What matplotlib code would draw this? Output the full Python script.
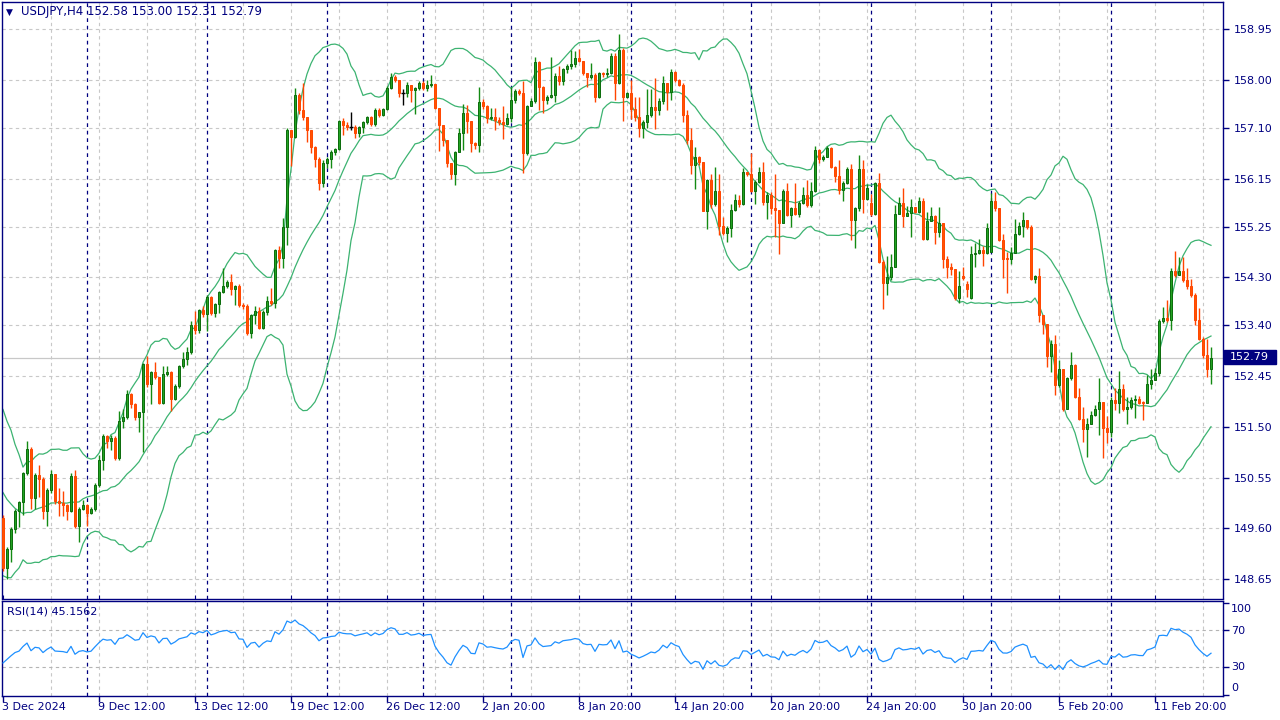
import numpy as np
import pandas as pd
import matplotlib
matplotlib.use("Agg")
import matplotlib.pyplot as plt
from matplotlib.patches import Rectangle

# ---------------- data (USDJPY H4) ----------------
# closes before the visible window (warm-up for Bollinger(20) / RSI(14))
history_close = [152.40, 152.05, 152.30, 151.90, 152.20, 151.85, 152.10, 151.70, 151.95, 151.60,
                 151.90, 151.55, 151.85, 151.50, 151.80,
                 151.75, 151.30, 151.55, 151.20, 151.45, 150.70, 150.15, 149.55, 150.00, 149.45,
                 149.90, 149.55, 150.10, 149.80, 150.35, 149.95, 150.20, 149.70, 149.85]

opens = [
    149.79, 148.86, 149.21, 149.58, 149.93, 150.09, 150.63, 151.08, 150.16, 150.60,
    150.53, 149.93, 150.32, 150.61, 150.11, 150.07, 150.04, 149.93, 150.58, 149.64,
    149.96, 150.04, 149.89, 149.96, 150.41, 150.88, 151.33, 151.24, 151.30, 150.91,
    151.61, 151.69, 152.12, 151.92, 151.69, 151.77, 152.68, 152.30, 152.52, 152.44,
    151.95, 152.49, 152.52, 152.03, 152.27, 152.64, 152.77, 152.90, 153.41, 153.31,
    153.68, 153.61, 153.93, 153.64, 153.80, 154.03, 154.14, 154.21, 154.09, 154.14,
    153.78, 153.76, 153.26, 153.60, 153.66, 153.35, 153.65, 153.85, 153.81, 154.81,
    154.66, 155.24, 157.06, 156.93, 157.72, 157.43, 157.30, 157.05, 156.74, 156.52,
    156.07, 156.45, 156.51, 156.65, 156.70, 157.23, 157.15, 157.12, 157.12, 157.00,
    157.11, 157.20, 157.31, 157.17, 157.43, 157.34, 157.45, 157.84, 158.05, 158.00,
    157.76, 157.76, 157.90, 157.80, 157.84, 157.93, 157.85, 157.90, 157.92, 157.47,
    157.15, 156.87, 156.45, 156.24, 156.64, 157.01, 157.37, 157.22, 156.81, 156.78,
    157.58, 157.50, 157.28, 157.31, 157.25, 157.20, 157.17, 157.28, 157.63, 157.79,
    157.75, 156.62, 157.51, 157.60, 158.34, 157.87, 157.62, 157.67, 157.71, 158.07,
    157.97, 158.20, 158.25, 158.30, 158.40, 158.36, 158.12, 158.06, 158.08, 157.67,
    158.13, 158.10, 158.12, 158.44, 157.93, 158.55, 157.67, 157.75, 157.46, 157.30,
    157.10, 157.21, 157.34, 157.49, 157.43, 157.60, 157.94, 157.77, 158.15, 158.00,
    157.91, 157.34, 156.87, 156.40, 156.56, 156.46, 155.54, 156.12, 155.68, 155.92,
    155.27, 155.13, 155.23, 155.57, 155.74, 155.68, 156.27, 156.24, 155.92, 156.09,
    156.27, 155.71, 155.84, 155.59, 155.56, 155.31, 155.92, 155.46, 155.59, 155.49,
    155.70, 155.84, 155.65, 155.92, 156.68, 156.52, 156.56, 156.72, 156.37, 156.20,
    155.94, 156.06, 156.32, 155.37, 155.59, 156.32, 155.76, 155.70, 155.48, 156.06,
    154.59, 154.20, 154.31, 154.50, 155.48, 155.70, 155.45, 155.50, 155.61, 155.53,
    155.72, 155.01, 155.36, 155.44, 155.15, 155.31, 154.65, 154.49, 154.45, 153.91,
    154.32, 154.17, 153.92, 154.74, 154.76, 154.81, 154.76, 154.78, 155.72, 155.59,
    155.00, 154.65, 154.64, 154.76, 155.12, 155.26, 155.37, 155.25, 154.26, 154.33,
    153.59, 153.42, 152.83, 153.06, 152.28, 152.59, 151.83, 152.41, 152.65, 152.06,
    151.64, 151.45, 151.56, 151.72, 151.83, 151.97, 151.47, 151.41, 152.00, 151.94,
    152.20, 151.84, 151.87, 152.00, 152.02, 151.95, 151.94, 152.30, 152.38, 152.50,
    153.49, 153.53, 153.50, 154.42, 154.34, 154.42, 154.25, 154.14, 153.97, 153.50,
    153.15, 152.84, 152.58]

highs = [
    149.85, 149.25, 149.63, 149.96, 150.12, 150.65, 151.24, 151.13, 150.63, 150.78,
    150.56, 150.35, 150.69, 150.62, 150.35, 150.29, 150.05, 150.63, 150.69, 150.00,
    150.13, 150.06, 150.00, 150.45, 150.97, 151.36, 151.35, 151.35, 151.32, 151.80,
    151.83, 152.19, 152.14, 151.94, 151.78, 152.70, 152.82, 152.55, 152.72, 152.42,
    152.63, 152.63, 152.55, 152.30, 152.66, 152.90, 152.99, 153.48, 153.67, 153.70,
    153.76, 153.97, 153.95, 153.82, 154.05, 154.47, 154.25, 154.36, 154.16, 154.17,
    153.81, 153.80, 153.62, 153.76, 153.75, 153.68, 153.95, 154.10, 154.83, 154.88,
    155.41, 157.09, 157.05, 157.84, 157.75, 157.93, 157.30, 157.06, 156.76, 156.55,
    156.50, 156.55, 156.68, 156.72, 157.25, 157.28, 157.20, 157.39, 157.15, 157.13,
    157.23, 157.33, 157.32, 157.47, 157.48, 157.47, 157.88, 158.12, 158.09, 158.00,
    157.83, 157.95, 157.90, 157.86, 157.97, 157.97, 158.00, 158.09, 157.92, 157.47,
    157.15, 156.88, 156.45, 156.66, 157.09, 157.55, 157.53, 157.22, 156.84, 157.87,
    157.64, 157.52, 157.47, 157.47, 157.30, 157.51, 157.37, 157.87, 157.82, 157.83,
    157.97, 157.53, 157.65, 158.43, 158.35, 157.88, 157.72, 158.43, 158.12, 158.25,
    158.22, 158.30, 158.56, 158.53, 158.57, 158.36, 158.12, 158.31, 158.12, 158.15,
    158.14, 158.22, 158.50, 158.50, 158.85, 158.60, 157.77, 157.99, 157.68, 157.67,
    157.24, 157.82, 157.82, 158.04, 157.65, 158.07, 157.94, 158.21, 158.17, 158.01,
    157.93, 157.44, 157.09, 156.74, 156.57, 156.46, 156.14, 156.24, 156.37, 156.24,
    155.43, 155.26, 155.68, 155.86, 155.84, 156.34, 156.28, 156.62, 156.12, 156.37,
    156.46, 155.90, 155.90, 156.24, 155.56, 155.96, 156.06, 155.62, 156.06, 155.72,
    156.00, 156.12, 156.09, 156.75, 156.70, 156.60, 156.76, 156.74, 156.38, 156.50,
    156.10, 156.37, 156.43, 155.62, 156.59, 156.50, 156.05, 155.86, 156.09, 156.26,
    154.62, 154.70, 154.74, 155.65, 155.81, 155.98, 155.63, 155.76, 155.62, 155.81,
    155.78, 155.53, 155.61, 155.46, 155.61, 155.31, 154.69, 154.57, 154.45, 154.41,
    154.50, 154.23, 154.89, 154.94, 155.02, 154.89, 155.31, 155.87, 155.89, 155.58,
    155.12, 154.77, 154.87, 155.40, 155.34, 155.53, 155.37, 155.28, 154.35, 154.48,
    153.59, 153.43, 153.12, 153.22, 152.75, 152.59, 152.44, 152.90, 152.67, 152.22,
    151.88, 151.66, 151.80, 151.91, 152.41, 151.97, 151.70, 152.06, 152.22, 152.55,
    152.31, 152.06, 152.05, 152.10, 152.07, 151.99, 152.47, 152.59, 152.61, 153.51,
    153.75, 153.88, 154.47, 154.80, 154.68, 154.68, 154.48, 154.26, 154.00, 153.72,
    153.18, 153.15, 153.00]

lows = [
    148.80, 148.65, 148.96, 149.51, 149.62, 149.85, 150.60, 149.97, 149.96, 150.19,
    149.77, 149.64, 150.27, 150.05, 149.83, 149.83, 149.76, 149.90, 149.60, 149.35,
    149.94, 149.64, 149.86, 149.93, 150.38, 150.69, 151.10, 151.07, 150.88, 150.88,
    151.47, 151.64, 151.85, 151.62, 151.41, 151.02, 152.25, 151.92, 152.40, 151.92,
    151.93, 152.45, 151.80, 152.00, 152.22, 152.60, 152.65, 152.87, 153.23, 153.25,
    153.55, 153.30, 153.60, 153.55, 153.63, 154.00, 154.10, 153.97, 153.78, 153.75,
    153.70, 153.22, 153.16, 153.42, 153.33, 153.33, 153.60, 153.78, 153.72, 154.47,
    154.47, 154.91, 156.39, 156.90, 157.35, 157.25, 156.84, 156.62, 156.37, 155.94,
    155.99, 156.35, 156.34, 156.60, 156.68, 156.97, 157.05, 157.06, 156.90, 156.93,
    157.00, 157.18, 157.13, 157.13, 157.31, 157.32, 157.43, 157.83, 157.95, 157.67,
    157.52, 157.67, 157.59, 157.35, 157.80, 157.80, 157.78, 157.86, 157.45, 156.67,
    156.76, 156.37, 156.15, 156.02, 156.64, 156.69, 157.00, 156.64, 156.70, 156.65,
    157.45, 157.19, 157.24, 157.06, 157.15, 156.89, 157.15, 157.20, 157.57, 157.72,
    156.25, 156.60, 157.50, 157.57, 157.43, 157.37, 157.55, 157.65, 157.58, 157.90,
    157.90, 158.13, 158.20, 158.23, 158.33, 158.08, 157.87, 158.02, 157.59, 157.66,
    158.05, 158.05, 158.10, 157.62, 157.92, 157.23, 157.65, 157.27, 157.22, 156.93,
    156.91, 157.09, 157.30, 157.07, 157.34, 157.55, 157.44, 157.62, 157.95, 157.88,
    157.21, 156.80, 156.24, 155.96, 156.40, 155.54, 155.21, 155.60, 155.64, 155.09,
    155.09, 154.96, 155.06, 155.55, 155.62, 155.66, 156.20, 155.90, 155.68, 156.07,
    155.65, 155.40, 155.49, 155.06, 154.74, 155.31, 155.44, 155.24, 155.46, 155.43,
    155.68, 155.62, 155.62, 155.90, 156.45, 156.48, 156.55, 156.35, 156.09, 155.86,
    155.73, 156.05, 155.00, 154.84, 155.55, 155.51, 155.74, 155.45, 155.46, 154.56,
    153.70, 153.97, 154.25, 154.50, 155.48, 155.25, 155.44, 155.05, 155.50, 155.50,
    155.00, 154.99, 155.36, 154.92, 155.06, 154.47, 154.28, 154.35, 153.87, 153.81,
    154.25, 153.94, 153.90, 154.50, 154.73, 154.51, 154.74, 154.77, 155.55, 154.98,
    154.28, 154.01, 154.55, 154.75, 155.09, 155.06, 155.20, 154.25, 154.20, 153.47,
    153.24, 152.62, 152.53, 152.09, 152.25, 151.80, 151.91, 152.38, 152.04, 151.62,
    151.22, 150.94, 151.55, 151.70, 151.34, 150.92, 151.19, 151.31, 151.81, 151.76,
    151.80, 151.56, 151.84, 151.67, 151.92, 151.63, 151.94, 152.20, 152.38, 152.45,
    153.45, 153.47, 153.31, 154.30, 154.34, 154.22, 154.09, 153.94, 153.40, 153.12,
    152.78, 152.44, 152.31]

closes = [
    148.86, 149.21, 149.58, 149.93, 150.09, 150.63, 151.08, 150.16, 150.60, 150.53,
    149.93, 150.32, 150.61, 150.11, 150.07, 150.04, 149.93, 150.58, 149.64, 149.96,
    150.04, 149.89, 149.96, 150.41, 150.88, 151.33, 151.24, 151.30, 150.91, 151.61,
    151.69, 152.12, 151.92, 151.69, 151.77, 152.68, 152.30, 152.52, 152.44, 151.95,
    152.49, 152.52, 152.03, 152.27, 152.64, 152.77, 152.90, 153.41, 153.31, 153.68,
    153.61, 153.93, 153.64, 153.80, 154.03, 154.14, 154.21, 154.09, 154.14, 153.78,
    153.76, 153.26, 153.60, 153.66, 153.35, 153.65, 153.85, 153.81, 154.81, 154.66,
    155.24, 157.06, 156.93, 157.72, 157.43, 157.30, 157.05, 156.74, 156.52, 156.07,
    156.45, 156.51, 156.65, 156.70, 157.23, 157.15, 157.12, 157.12, 157.00, 157.11,
    157.20, 157.31, 157.17, 157.43, 157.34, 157.45, 157.84, 158.05, 158.00, 157.76,
    157.76, 157.90, 157.80, 157.84, 157.93, 157.85, 157.90, 157.92, 157.47, 157.15,
    156.87, 156.45, 156.24, 156.64, 157.01, 157.37, 157.22, 156.81, 156.78, 157.58,
    157.50, 157.28, 157.31, 157.25, 157.20, 157.17, 157.28, 157.63, 157.79, 157.75,
    156.62, 157.51, 157.60, 158.34, 157.87, 157.62, 157.67, 157.71, 158.07, 157.97,
    158.20, 158.25, 158.30, 158.40, 158.36, 158.12, 158.06, 158.08, 157.67, 158.13,
    158.10, 158.12, 158.44, 157.93, 158.55, 157.67, 157.75, 157.46, 157.30, 157.10,
    157.21, 157.34, 157.49, 157.43, 157.60, 157.94, 157.77, 158.15, 158.00, 157.91,
    157.34, 156.87, 156.40, 156.56, 156.46, 155.54, 156.12, 155.68, 155.92, 155.27,
    155.13, 155.23, 155.57, 155.74, 155.68, 156.27, 156.24, 155.92, 156.09, 156.27,
    155.71, 155.84, 155.59, 155.56, 155.31, 155.92, 155.46, 155.59, 155.49, 155.70,
    155.84, 155.65, 155.92, 156.68, 156.52, 156.56, 156.72, 156.37, 156.20, 155.94,
    156.06, 156.32, 155.37, 155.59, 156.32, 155.76, 155.97, 155.48, 156.06, 154.59,
    154.20, 154.31, 154.50, 155.48, 155.70, 155.45, 155.50, 155.61, 155.53, 155.72,
    155.01, 155.36, 155.44, 155.15, 155.31, 154.65, 154.49, 154.45, 153.91, 154.14,
    154.28, 154.09, 154.74, 154.76, 154.81, 154.76, 155.22, 155.72, 155.59, 155.00,
    154.65, 154.64, 154.76, 155.12, 155.26, 155.37, 155.25, 154.26, 154.33, 153.59,
    153.42, 152.83, 153.06, 152.28, 152.59, 151.83, 152.41, 152.65, 152.06, 151.64,
    151.45, 151.56, 151.72, 151.83, 151.97, 151.47, 151.41, 152.00, 151.94, 152.20,
    151.84, 151.87, 152.00, 152.02, 151.95, 151.94, 152.30, 152.38, 152.50, 153.49,
    153.53, 153.50, 154.42, 154.34, 154.42, 154.25, 154.14, 153.97, 153.50, 153.15,
    152.84, 152.58, 152.79]

price_ticks = [158.95, 158.00, 157.10, 156.15, 155.25, 154.30, 153.40, 152.45,
               151.50, 150.55, 149.60, 148.65]
date_label_bars = [0, 24, 48, 72, 96, 120, 144, 168, 192, 216, 240, 264, 288]
date_labels = ["3 Dec 2024", "9 Dec 12:00", "13 Dec 12:00", "19 Dec 12:00", "26 Dec 12:00",
               "2 Jan 20:00", "8 Jan 20:00", "14 Jan 20:00", "20 Jan 20:00", "24 Jan 20:00",
               "30 Jan 20:00", "5 Feb 20:00", "11 Feb 20:00"]
week_start_bars = [21, 51, 81, 105, 127, 157, 187, 217, 247, 277]
header_text = "USDJPY,H4 152.58 153.00 152.31 152.79"
rsi_text = "RSI(14) 45.1562"
last_price = 152.79

# ---------------- indicators ----------------
all_close = pd.Series(history_close + closes, dtype=float)
mid = all_close.rolling(20).mean()
sd = all_close.rolling(20).std(ddof=0)
nh = len(history_close)
bb_mid = mid.values[nh:]
bb_up = (mid + 2 * sd).values[nh:]
bb_lo = (mid - 2 * sd).values[nh:]

def rsi_mt(vals, n=14):
    v = np.asarray(vals, float)
    d = np.diff(v)
    g = np.where(d > 0, d, 0.0)
    l = np.where(d < 0, -d, 0.0)
    out = np.full(len(v), np.nan)
    ag = g[:n].mean()
    al = l[:n].mean()
    out[n] = 100 - 100 / (1 + ag / al) if al > 0 else 100
    for k in range(n, len(d)):
        ag = (ag * (n - 1) + g[k]) / n
        al = (al * (n - 1) + l[k]) / n
        out[k + 1] = 100 - 100 / (1 + ag / al) if al > 0 else 100
    return out

rsi = rsi_mt(all_close.values)[nh:]

# ---------------- figure ----------------
W, H = 1280, 720
NAVY = "#000080"
GRID = "#C8C8C8"
fig = plt.figure(figsize=(12.8, 7.2), dpi=100)
fig.patch.set_facecolor("white")

def fx(p):
    return p / W

def fy(p):
    return 1 - p / H

ax = fig.add_axes([fx(2), fy(598.5), fx(1223) - fx(2), fy(2) - fy(598.5)])
ax2 = fig.add_axes([fx(2), fy(695.5), fx(1223) - fx(2), fy(600.5) - fy(695.5)])

x0 = -0.25
x1 = 305.0
for a in (ax, ax2):
    a.set_xlim(x0, x1)
    for s in a.spines.values():
        s.set_color(NAVY)
        s.set_linewidth(1.0)
    a.set_facecolor("white")

ax.set_ylim(148.285, 159.456)
ax2.set_ylim(-0.5, 102.2)

# grids
grid_bars = list(range(12, 305, 12))
for a in (ax, ax2):
    for g in grid_bars:
        a.axvline(g, color=GRID, lw=0.8, ls=(0, (3, 3)), zorder=0)
    for w in week_start_bars:
        a.axvline(w, color=NAVY, lw=0.9, ls=(0, (3, 3)), zorder=1)
for p in price_ticks:
    ax.axhline(p, color=GRID, lw=0.8, ls=(0, (3, 3)), zorder=0)
for lv in (70, 30):
    ax2.axhline(lv, color="#B4B4B4", lw=0.8, ls=(0, (3, 3)), zorder=0)

ax.axhline(last_price, color="#C8C8C8", lw=0.9, zorder=0.5)

# candles
n = len(closes)
xs = np.arange(n)
o = np.array(opens); h = np.array(highs); l = np.array(lows); c = np.array(closes)
bull = c > o
bear = c < o
doji = c == o
BULL_FILL, BULL_EDGE = "#22A322", "#0B6B0B"
BEAR_FILL, BEAR_EDGE = "#FF5500", "#FF4500"

wick_cols = np.where(bull, "#138A13", np.where(bear, BEAR_EDGE, "black"))
hh = np.maximum(h, np.maximum(o, c))
ll = np.minimum(l, np.minimum(o, c))
ax.vlines(xs, ll, hh, colors=list(wick_cols), lw=1.0, zorder=3)

body_lo = np.minimum(o, c)
body_h = np.maximum(np.abs(c - o), 0.02)
ax.bar(xs[bull], body_h[bull], bottom=body_lo[bull], width=0.62,
       color=BULL_FILL, edgecolor=BULL_EDGE, linewidth=0.7, zorder=4)
ax.bar(xs[bear], body_h[bear], bottom=body_lo[bear], width=0.62,
       color=BEAR_FILL, edgecolor=BEAR_EDGE, linewidth=0.7, zorder=4)
ax.hlines(o[doji], xs[doji] - 0.45, xs[doji] + 0.45, colors="black", lw=1.0, zorder=4)

# bollinger bands
BB = "#3CB371"
for band in (bb_up, bb_mid, bb_lo):
    ax.plot(xs, band, color=BB, lw=0.9, zorder=2)

# RSI
ax2.plot(xs, rsi, color="#1E90FF", lw=0.9, zorder=3)

# axes ticks
ax.yaxis.tick_right()
ax.set_yticks(price_ticks)
ax.set_yticklabels([f"{p:.2f}" for p in price_ticks])
ax.tick_params(axis="y", colors=NAVY, labelcolor=NAVY, length=4, width=1,
               pad=3.5, labelsize=8)
ax.set_xticks(date_label_bars)
ax.tick_params(axis="x", direction="in", length=3, colors=NAVY, labelbottom=False)

ax2.yaxis.tick_right()
ax2.set_yticks([0, 30, 70, 100])
ax2.set_yticklabels([])
ax2.tick_params(axis="y", colors=NAVY, length=4, width=1)
ax2.set_xticks(date_label_bars)
ax2.set_xticklabels([])
ax2.tick_params(axis="x", colors=NAVY, length=4, width=1)

for s, yp in (("100", 609), ("70", 631), ("30", 667), ("0", 688)):
    fig.text(fx(1231), fy(yp), s, color=NAVY, fontsize=8, va="center", ha="left")

# date labels
for b, s in zip(date_label_bars, date_labels):
    px = 3 + 4 * b
    fig.text(fx(px - 1), fy(707), s, color=NAVY, fontsize=8, va="center", ha="left")

# last price tag
fig.patches.append(Rectangle((fx(1224), fy(364)), fx(1276) - fx(1224), fy(350) - fy(364),
                             transform=fig.transFigure, facecolor=NAVY, edgecolor=NAVY,
                             zorder=5))
fig.text(fx(1230), fy(357), f"{last_price:.2f}", color="white", fontsize=8,
         va="center", ha="left", zorder=6)

# header and indicator label
fig.text(fx(6), fy(12), "\u25BC", color=NAVY, fontsize=6.5, va="center", ha="left")
fig.text(fx(21), fy(12), header_text, color=NAVY, fontsize=8.5, va="center", ha="left")
fig.text(fx(7), fy(611), rsi_text, color=NAVY, fontsize=8, va="center", ha="left")

fig.savefig("out.png", dpi=100)
